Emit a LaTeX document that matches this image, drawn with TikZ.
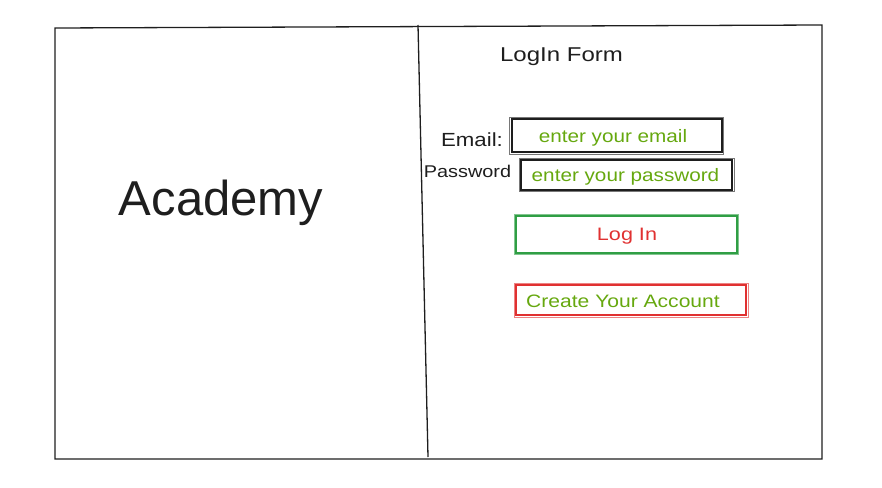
\documentclass[tikz,border=0pt]{standalone}
\usepackage{fontspec}
\setmainfont{Liberation Sans}
\definecolor{txtgreen}{RGB}{102,168,15}
\definecolor{boxgreen}{RGB}{47,158,68}
\definecolor{boxred}{RGB}{224,49,49}
\definecolor{ink}{RGB}{30,30,30}
% stretch handwritten-style labels sideways
\newcommand\wdtxt[2]{\scalebox{#1}[1]{#2}}
\begin{document}
\begin{tikzpicture}[x=1pt,y=-1pt,
  frame/.style={draw=ink,line width=1.3pt},
  field/.style={draw=ink,line width=1.1pt,inner sep=0pt},
  label/.style={text=ink,inner sep=0pt},
  hint/.style={text=txtgreen,inner sep=0pt,font=\fontsize{18}{21}\selectfont},
  retrace/.style={line width=0.5pt,opacity=0.6}]
\useasboundingbox (0,0) rectangle (882,487);
% outer frame and split between brand and form panels
\coordinate (tl) at (55,28);
\coordinate (tr) at (822,25);
\coordinate (br) at (822,459);
\coordinate (bl) at (55,459);
\coordinate (dtop) at (418,25);
\coordinate (dbot) at (428,457);
\draw[frame] (tl) -- (tr) -- (br) -- (bl) -- cycle;
\draw[frame] (dtop) -- (dbot);
% brand panel
\node[label,font=\fontsize{49}{56}\selectfont] (brand) at (221,203) {Academy};
% form panel
\node[label,font=\fontsize{20}{23}\selectfont] (title) at (561.5,57) {\wdtxt{1.2}{LogIn Form}};
\node[label,font=\fontsize{19}{22}\selectfont] (emaillbl) at (472,140) {\wdtxt{1.17}{Email:}};
\node[field,minimum width=210pt,minimum height=33pt] (email) at (617,135.5) {};
\draw[retrace,draw=ink] ([shift={(-2,-1)}]email.north west) rectangle ([shift={(1,1.5)}]email.south east);
\node[hint] (emailtxt) at (613,138) {\wdtxt{1.15}{enter your email}};
\node[label,font=\fontsize{17}{20}\selectfont] (passlbl) at (467.5,171) {\wdtxt{1.17}{Password}};
\node[field,minimum width=211pt,minimum height=30pt] (pass) at (626.5,175) {};
\draw[retrace,draw=ink] ([shift={(-1,-1.5)}]pass.north west) rectangle ([shift={(1.5,1)}]pass.south east);
\node[hint] (passtxt) at (625.5,177) {\wdtxt{1.15}{enter your password}};
\node[draw=boxgreen,line width=1.1pt,minimum width=221pt,minimum height=37pt,inner sep=0pt] (login) at (626.5,234.5) {};
\draw[retrace,draw=boxgreen] ([shift={(-1.5,-1.5)}]login.north west) rectangle ([shift={(1,1)}]login.south east);
\node[text=boxred,inner sep=0pt,font=\fontsize{18}{21}\selectfont] (logintxt) at (627,236) {\wdtxt{1.2}{Log In}};
\node[draw=boxred,line width=1.1pt,minimum width=230pt,minimum height=30pt,inner sep=0pt] (create) at (631,300) {};
\draw[retrace,draw=boxred] ([shift={(-1,-1)}]create.north west) rectangle ([shift={(1.5,1.5)}]create.south east);
\node[text=txtgreen,inner sep=0pt,font=\fontsize{18}{21}\selectfont] (createtxt) at (623,301) {\wdtxt{1.17}{Create Your Account}};
\end{tikzpicture}
\end{document}
